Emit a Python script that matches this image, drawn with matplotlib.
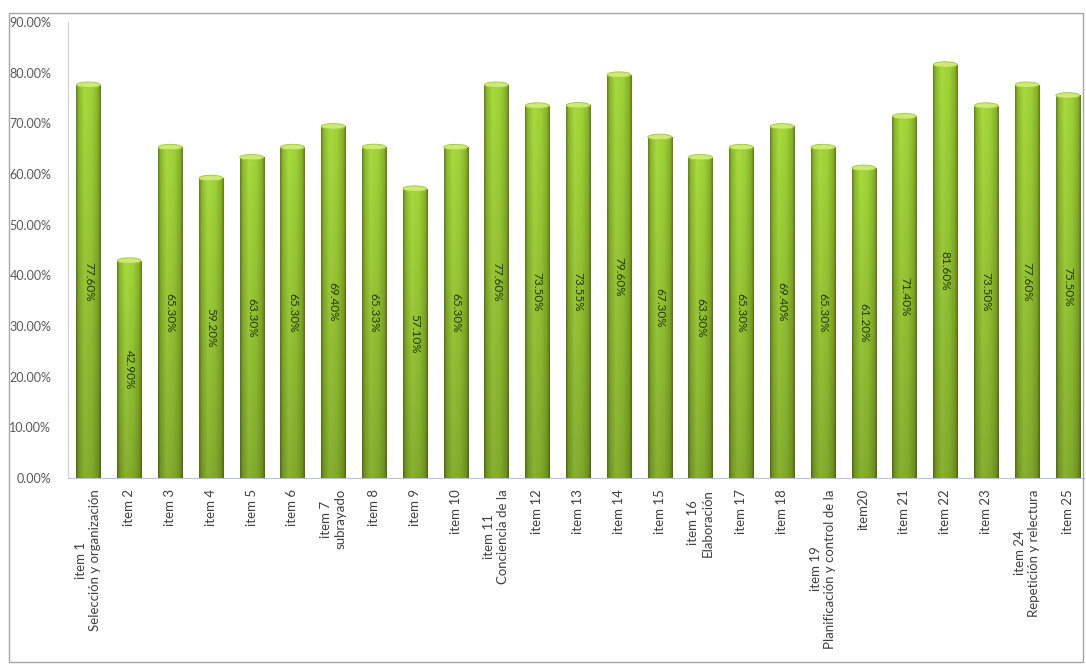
import numpy as np
import matplotlib
matplotlib.use("Agg")
import matplotlib.pyplot as plt
from matplotlib.patches import Ellipse, Rectangle
from matplotlib.colors import LinearSegmentedColormap

plt.rcParams['font.family'] = ['Lato', 'DejaVu Sans']

categories = [
    "item 1\nSelección y organización", "item 2", "item 3", "item 4", "item 5",
    "item 6", "item 7\nsubrayado", "item 8", "item 9", "item 10",
    "item 11\nConciencia de la", "item 12", "item 13", "item 14", "item 15",
    "item 16\nElaboración", "item 17", "item 18",
    "item 19\nPlanificación y control de la", "item20", "item 21", "item 22",
    "item 23", "item 24\nRepetición y relectura", "item 25",
]
values = [77.60, 42.90, 65.30, 59.20, 63.30, 65.30, 69.40, 65.33, 57.10, 65.30,
          77.60, 73.50, 73.55, 79.60, 67.30, 63.30, 65.30, 69.40, 65.30, 61.20,
          71.40, 81.60, 73.50, 77.60, 75.50]
yticks = [0, 10, 20, 30, 40, 50, 60, 70, 80, 90]

W, H = 1086, 666
fig = plt.figure(figsize=(W / 100, H / 100), dpi=100)
fig.patch.set_facecolor("white")

# outer chart frame
fig.patches.append(Rectangle((9 / W, 4 / H), (1083 - 9) / W, (653 - 4) / H,
                             transform=fig.transFigure, fill=False,
                             edgecolor="#a6a6a6", lw=1.0, zorder=0))

left, right = 68 / W, 1084 / W
bottom, top = (H - 478) / H, (H - 22) / H
ax = fig.add_axes([left, bottom, right - left, top - bottom])

x = np.arange(len(values))
vals = np.array(values) / 100.0
bars = ax.bar(x, vals, width=0.59, color="#8fbf2e", edgecolor="none", zorder=2)

# cylinder-like shading for each bar
cmap = LinearSegmentedColormap.from_list(
    "cyl", [(0.0, "#5f7a1c"), (0.10, "#86b02c"), (0.35, "#a2d23c"),
            (0.65, "#98c934"), (0.90, "#82aa28"), (1.0, "#5c7518")])
hx = np.linspace(0, 1, 64)
for b in bars:
    bx, bw, bh = b.get_x(), b.get_width(), b.get_height()
    vgrad = np.linspace(0.0, 1.0, 128)[:, None]  # bottom -> top
    base = cmap(hx)[None, :, :3].repeat(128, axis=0)
    light = 0.84 + 0.20 * vgrad[..., None]
    img = np.clip(base * light, 0, 1)
    im = ax.imshow(img, extent=[bx, bx + bw, 0, bh], origin="lower",
                   aspect="auto", zorder=3, interpolation="bilinear")
    im.set_clip_path(b)
    ax.add_patch(Ellipse((bx + bw / 2, bh), bw * 0.98, 0.011,
                         facecolor="#cdeb74", edgecolor="#a4cc44", lw=0.7,
                         zorder=4))
    ax.text(bx + bw / 2, bh / 2, f"{bh * 100:.2f}%", rotation=270,
            ha="center", va="center", fontsize=8.5, color="#1f3806", zorder=5)

ax.set_xlim(-0.5, 24.4)
ax.set_ylim(0, 0.9)
ax.set_yticks([v / 100 for v in yticks])
ax.set_yticklabels([f"{v:.2f}%" for v in yticks], fontsize=9, color="#595959")
ax.set_xticks(x)
ax.set_xticklabels(categories, rotation=90, fontsize=9.5, color="#404040",
                   ha="center", va="top", multialignment="center")
ax.tick_params(axis="y", length=0, pad=12)
ax.tick_params(axis="x", length=0, pad=8)
for s in ("top", "right"):
    ax.spines[s].set_visible(False)
ax.spines["left"].set_color("#d0d0d0")
ax.spines["bottom"].set_color("#b8c4d4")
ax.spines["left"].set_zorder(1)
ax.spines["bottom"].set_zorder(1)
ax.set_facecolor("white")

fig.savefig("out.png", dpi=100, facecolor="white")
